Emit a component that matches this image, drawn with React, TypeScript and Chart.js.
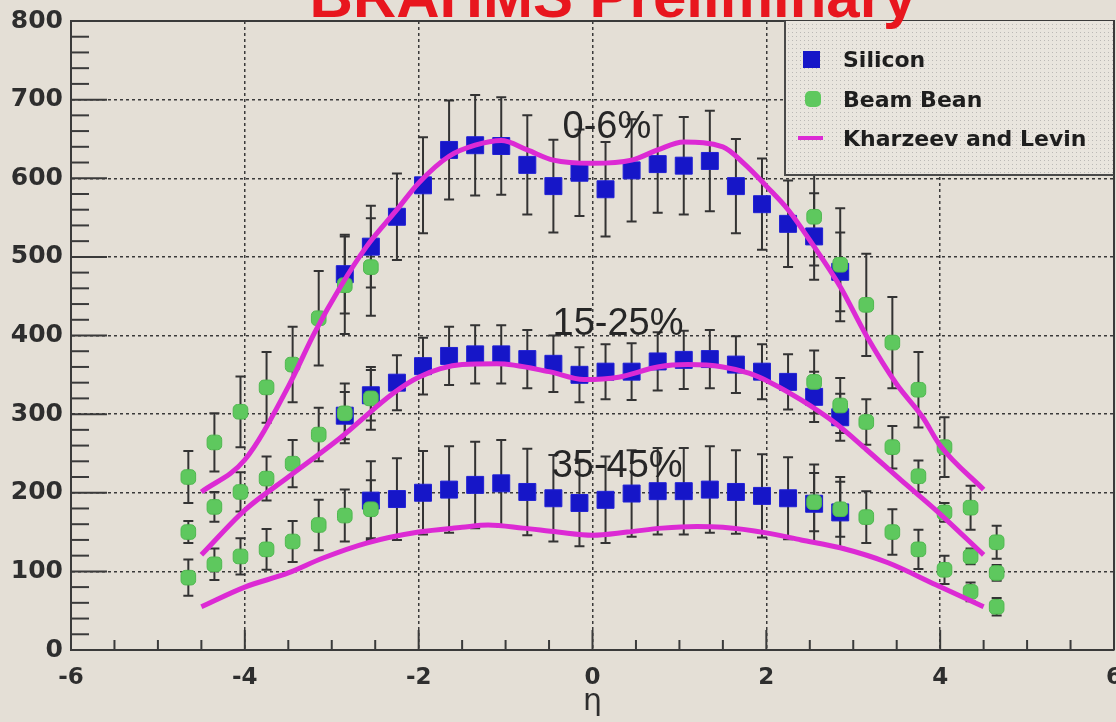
import React, { useEffect, useRef } from "react";
import { Chart, registerables } from "chart.js";

Chart.register(...registerables);

// ---------- data ----------
const siliconEta = [-2.85, -2.55, -2.25, -1.95, -1.65, -1.35, -1.05, -0.75, -0.45, -0.15, 0.15, 0.45, 0.75, 1.05, 1.35, 1.65, 1.95, 2.25, 2.55, 2.85];
const silicon0to6 = [478, 513, 551, 591, 636, 642, 641, 617, 590, 607, 586, 610, 618, 616, 622, 590, 567, 542, 526, 481];
const silicon0to6Err = [50, 52, 55, 61, 63, 64, 62, 63, 59, 55, 60, 65, 62, 62, 64, 60, 58, 55, 55, 50];
const silicon15to25 = [298, 324, 340, 361, 374, 376, 376, 370, 364, 350, 354, 354, 367, 369, 370, 363, 354, 341, 322, 296];
const silicon15to25Err = [30, 32, 35, 36, 37, 37, 37, 37, 36, 35, 35, 36, 37, 37, 37, 36, 35, 35, 32, 30];
const silicon35Eta = [-2.55, -2.25, -1.95, -1.65, -1.35, -1.05, -0.75, -0.45, -0.15, 0.15, 0.45, 0.75, 1.05, 1.35, 1.65, 1.95, 2.25, 2.55, 2.85];
const silicon35to45 = [190, 192, 200, 204, 210, 212, 201, 193, 187, 191, 199, 202, 202, 204, 201, 196, 193, 186, 175];
const silicon35to45Err = [50, 52, 53, 55, 55, 55, 55, 55, 55, 55, 55, 55, 55, 55, 53, 53, 52, 50, 45];

const bbEta = [-4.65, -4.35, -4.05, -3.75, -3.45, -3.15, -2.85, -2.55, 2.55, 2.85, 3.15, 3.45, 3.75, 4.05, 4.35, 4.65];
const bb0to6 = [220, 264, 303, 334, 363, 422, 464, 487, 551, 490, 439, 391, 331, 258, 181, 137];
const bb0to6Err = [33, 37, 45, 45, 48, 60, 62, 62, 62, 72, 65, 58, 48, 38, 28, 21];
const bb15to25 = [150, 182, 201, 218, 237, 274, 301, 320, 341, 311, 290, 258, 221, 175, 119, 98];
const bb15to25Err = [14, 19, 25, 28, 30, 34, 38, 40, 40, 35, 29, 27, 20, 12, 10, 10];
const bb35to45 = [92, 109, 119, 128, 138, 159, 171, 179, 188, 179, 169, 150, 128, 102, 74, 55];
const bb35to45Err = [23, 20, 23, 26, 26, 32, 33, 37, 37, 35, 33, 29, 25, 18, 12, 11];

const kl0to6Eta = [-4.5, -4.0, -3.5, -3.2, -2.9, -2.6, -2.25, -2.0, -1.65, -1.35, -1.05, -0.75, -0.45, 0, 0.45, 0.75, 1.05, 1.5, 1.75, 2.0, 2.25, 2.55, 2.85, 3.15, 3.5, 3.8, 4.0, 4.5];
const kl0to6 = [201, 242, 335, 403, 462, 513, 560, 594, 628, 642, 648, 636, 623, 619, 623, 636, 646, 640, 618, 590, 560, 513, 462, 400, 338, 296, 260, 204];
const kl15to25Eta = [-4.5, -4.0, -3.5, -2.9, -2.3, -2.0, -1.5, -1.1, -0.5, -0.1, 0.3, 0.75, 1.1, 1.5, 1.8, 2.05, 2.4, 2.8, 3.15, 3.55, 3.95, 4.5];
const kl15to25 = [121, 178, 220, 270, 326, 347, 363, 364, 354, 344, 347, 360, 363, 360, 352, 340, 318, 288, 255, 216, 178, 121];
const kl35to45Eta = [-4.5, -4.0, -3.5, -3.1, -2.6, -2.0, -1.5, -1.2, -0.8, -0.4, 0, 0.4, 0.8, 1.2, 1.5, 2.0, 2.4, 2.85, 3.4, 3.95, 4.5];
const kl35to45 = [55, 80, 98, 117, 136, 150, 156, 159, 155, 150, 146, 150, 155, 157, 156, 149, 140, 130, 111, 83, 55];

const centralityLabels = ["0-6%", "15-25%", "35-45%"];
const centralityLabelEta = [-0.345, -0.46, -0.47];
const centralityLabelValue = [651, 401, 220];

const legendLabels = ["Silicon", "Beam Bean", "Kharzeev and Levin"];
const titleText = "BRAHMS Preliminary";

const xTickStep = 2;
const yTickStep = 100;

// ---------- styles ----------
const BG = "#e4dfd6";
const BLUE = "#1616c8";
const GREEN = "#5ec85e";
const MAGENTA = "#dc2ad4";
const INK = "#2e2e2e";
const TICK_FONT = "'DejaVu Sans', 'Liberation Sans', Arial, sans-serif";

const pts = (xs: number[], ys: number[]) => xs.map((x, i) => ({ x, y: ys[i] }));

const bgPlugin = {
  id: "bg",
  beforeDraw(chart: any) {
    const { ctx, width, height } = chart;
    ctx.save();
    ctx.fillStyle = BG;
    ctx.fillRect(0, 0, width, height);
    ctx.restore();
  },
};

const framePlugin = {
  id: "frameAndErrors",
  beforeDatasetsDraw(chart: any) {
    const { ctx, chartArea, scales } = chart;
    const xs = scales.x;
    const ys = scales.y;
    ctx.save();
    ctx.strokeStyle = "#3a3a3a";
    ctx.lineWidth = 2;
    ctx.beginPath();
    ctx.moveTo(chartArea.left, chartArea.top);
    ctx.lineTo(chartArea.right, chartArea.top);
    ctx.lineTo(chartArea.right, chartArea.bottom);
    ctx.stroke();
    for (let v = 0; v <= 800; v += 20) {
      const py = ys.getPixelForValue(v);
      const len = v % 100 === 0 ? 36 : 18;
      ctx.beginPath();
      ctx.moveTo(chartArea.left, py);
      ctx.lineTo(chartArea.left + len, py);
      ctx.stroke();
    }
    for (let v = -6; v <= 6.001; v += 0.5) {
      const px = xs.getPixelForValue(v);
      const len = Math.abs(v % 2) < 1e-6 ? 20 : 10;
      ctx.beginPath();
      ctx.moveTo(px, chartArea.bottom);
      ctx.lineTo(px, chartArea.bottom - len);
      ctx.stroke();
    }
    ctx.strokeStyle = "#333333";
    ctx.lineWidth = 2;
    chart.data.datasets.forEach((ds: any) => {
      if (!ds.errors) return;
      ds.data.forEach((p: any, j: number) => {
        const e = ds.errors[j];
        const px = xs.getPixelForValue(p.x);
        const top = ys.getPixelForValue(p.y + e);
        const bot = ys.getPixelForValue(p.y - e);
        ctx.beginPath();
        ctx.moveTo(px, top);
        ctx.lineTo(px, bot);
        ctx.moveTo(px - 5, top);
        ctx.lineTo(px + 5, top);
        ctx.moveTo(px - 5, bot);
        ctx.lineTo(px + 5, bot);
        ctx.stroke();
      });
    });
    ctx.restore();
  },
};

const overlayPlugin = {
  id: "overlay",
  afterDraw(chart: any) {
    const { ctx, chartArea, scales } = chart;
    const xs = scales.x;
    const ys = scales.y;
    ctx.save();
    ctx.fillStyle = "#262626";
    ctx.font = "38px 'Liberation Sans', Arial, sans-serif";
    ctx.textAlign = "left";
    ctx.textBaseline = "alphabetic";
    centralityLabels.forEach((t, i) => {
      ctx.fillText(t, xs.getPixelForValue(centralityLabelEta[i]), ys.getPixelForValue(centralityLabelValue[i]));
    });

    const lx = 785;
    const ly = chartArea.top;
    const lr = chartArea.right;
    const lb = 175;
    ctx.fillStyle = "#e9e5de";
    ctx.fillRect(lx, ly, lr - lx, lb - ly);
    ctx.fillStyle = "rgba(150,150,150,0.55)";
    for (let x = lx + 3; x < lr; x += 4) {
      for (let y = ly + 3; y < lb; y += 4) {
        ctx.fillRect(x, y, 1, 1);
      }
    }
    ctx.strokeStyle = "#4a4a4a";
    ctx.lineWidth = 2;
    ctx.beginPath();
    ctx.moveTo(lx, ly);
    ctx.lineTo(lx, lb);
    ctx.lineTo(lr, lb);
    ctx.stroke();
    ctx.strokeStyle = "#3a3a3a";
    ctx.beginPath();
    ctx.moveTo(lr, ly);
    ctx.lineTo(lr, lb);
    ctx.stroke();

    ctx.fillStyle = BLUE;
    ctx.fillRect(803, 51, 17, 17);
    ctx.fillStyle = GREEN;
    ctx.beginPath();
    if ((ctx as any).roundRect) {
      (ctx as any).roundRect(805, 91, 16, 16, 5);
    } else {
      ctx.rect(805, 91, 16, 16);
    }
    ctx.fill();
    ctx.strokeStyle = MAGENTA;
    ctx.lineWidth = 4;
    ctx.beginPath();
    ctx.moveTo(798, 138);
    ctx.lineTo(823, 138);
    ctx.stroke();
    ctx.fillStyle = "#1e1e1e";
    ctx.font = "bold 22px " + TICK_FONT;
    ctx.textAlign = "left";
    ctx.fillText(legendLabels[0], 843, 67);
    ctx.fillText(legendLabels[1], 843, 107);
    ctx.fillText(legendLabels[2], 843, 146);

    ctx.fillStyle = "#e8161e";
    ctx.font = "bold 60px 'Liberation Sans', Arial, sans-serif";
    ctx.textAlign = "center";
    ctx.fillText(titleText, 613, 17);
    ctx.restore();
  },
};

export default function App() {
  const ref = useRef<HTMLCanvasElement | null>(null);

  useEffect(() => {
    document.body.style.margin = "0";
    document.body.style.background = BG;
    const canvas = ref.current;
    if (!canvas) return;

    const lineDs = (label: string, xs: number[], ys: number[]) => ({
      label,
      data: pts(xs, ys),
      showLine: true,
      borderColor: MAGENTA,
      backgroundColor: MAGENTA,
      borderWidth: 5,
      pointRadius: 0,
      cubicInterpolationMode: "monotone" as const,
    });
    const bbDs = (label: string, ys: number[], errs: number[]) => ({
      label,
      data: pts(bbEta, ys),
      errors: errs,
      pointStyle: "rectRounded",
      pointRadius: 8.5,
      backgroundColor: GREEN,
      borderColor: "#4fb84f",
      borderWidth: 1,
      showLine: false,
    });
    const siDs = (label: string, xs: number[], ys: number[], errs: number[]) => ({
      label,
      data: pts(xs, ys),
      errors: errs,
      pointStyle: "rect",
      pointRadius: 12,
      backgroundColor: BLUE,
      borderColor: "#2020d4",
      borderWidth: 1,
      showLine: false,
    });

    const chart = new Chart(canvas, {
      type: "scatter",
      data: {
        datasets: [
          lineDs("Kharzeev and Levin 0-6%", kl0to6Eta, kl0to6),
          lineDs("Kharzeev and Levin 15-25%", kl15to25Eta, kl15to25),
          lineDs("Kharzeev and Levin 35-45%", kl35to45Eta, kl35to45),
          bbDs("Beam Bean 0-6%", bb0to6, bb0to6Err),
          bbDs("Beam Bean 15-25%", bb15to25, bb15to25Err),
          bbDs("Beam Bean 35-45%", bb35to45, bb35to45Err),
          siDs("Silicon 0-6%", siliconEta, silicon0to6, silicon0to6Err),
          siDs("Silicon 15-25%", siliconEta, silicon15to25, silicon15to25Err),
          siDs("Silicon 35-45%", silicon35Eta, silicon35to45, silicon35to45Err),
        ] as any,
      },
      options: {
        responsive: false,
        animation: false,
        layout: { autoPadding: false, padding: { top: 21, right: 2, left: 0, bottom: 0 } },
        plugins: {
          legend: { display: false },
          tooltip: { enabled: false },
          title: { display: false },
        },
        scales: {
          x: {
            type: "linear",
            min: -6,
            max: 6,
            ticks: {
              stepSize: xTickStep,
              color: INK,
              padding: 14,
              font: { family: TICK_FONT, weight: "bold", size: 23 },
            },
            grid: {
              drawTicks: false,
              lineWidth: 1.5,
              color: (c: any) =>
                c.tick && (c.tick.value === -6 || c.tick.value === 6) ? "rgba(0,0,0,0)" : "#3a3a3a",
            },
            border: { display: true, color: "#3a3a3a", width: 2, dash: [3, 3] },
            title: {
              display: true,
              text: "η",
              color: INK,
              font: { family: TICK_FONT, size: 30 },
              padding: { top: 0, bottom: 2 },
            },
            afterFit: (s: any) => {
              s.height = 72;
              s.paddingLeft = 0;
              s.paddingRight = 0;
            },
          },
          y: {
            type: "linear",
            min: 0,
            max: 800,
            ticks: {
              stepSize: yTickStep,
              color: INK,
              padding: 8,
              font: { family: TICK_FONT, weight: "bold", size: 25 },
            },
            grid: {
              drawTicks: false,
              lineWidth: 1.5,
              color: (c: any) =>
                c.tick && (c.tick.value === 0 || c.tick.value === 800) ? "rgba(0,0,0,0)" : "#3a3a3a",
            },
            border: { display: true, color: "#3a3a3a", width: 2, dash: [3, 3] },
            afterFit: (s: any) => {
              s.width = 71;
              s.paddingTop = 0;
              s.paddingBottom = 0;
            },
          },
        },
      } as any,
      plugins: [bgPlugin, framePlugin, overlayPlugin],
    });
    return () => chart.destroy();
  }, []);

  return (
    <div style={{ width: 1116, height: 722, position: "relative" }}>
      <canvas ref={ref} width={1116} height={722} style={{ display: "block" }} />
    </div>
  );
}
